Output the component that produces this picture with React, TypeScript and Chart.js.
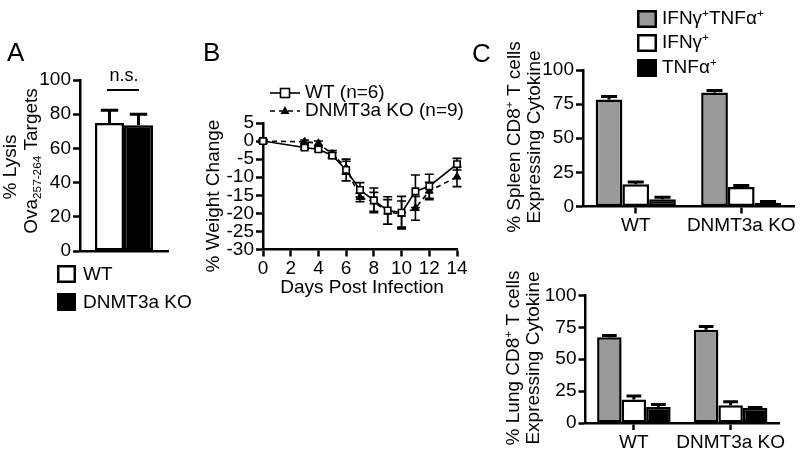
import React, { useEffect, useRef } from "react";
import { Chart, registerables } from "chart.js";

Chart.register(...registerables);

const FONT = '"Liberation Sans", Arial, Helvetica, sans-serif';
const CW = 800;
const CH = 457;
const TICK_SIZE = 19;

// ---------- Panel A: % lysis ----------
const lysisGroups = ["WT", "DNMT3a KO"];
const lysisMean = [74.8, 73.6];
const lysisSem = [7.5, 6.4];
const lysisTickStep = 20;

// ---------- Panel B: weight change ----------
const infectionDays = [0, 3, 4, 5, 6, 7, 8, 9, 10, 11, 12, 14];
const wtWeightChange = [0, -1.8, -2.3, -4.0, -8.0, -13.5, -16.4, -19.2, -19.8, -13.9, -12.5, -6.4];
const wtWeightSem = [0.5, 0.5, 0.6, 0.8, 3.0, 2.0, 3.4, 3.8, 4.5, 4.5, 3.3, 1.6];
const koWeightChange = [0, -0.2, -0.6, -3.6, -7.4, -15.6, -16.8, -19.6, -20.2, -18.6, -13.8, -9.9];
const koWeightSem = [0.4, 0.5, 0.6, 1.0, 1.8, 1.2, 2.6, 3.4, 3.6, 3.3, 2.4, 2.7];
const weightTickStep = 5;
const dayTickStep = 2;

// ---------- Panel C: cytokine expression ----------
const cytokineGroups = ["WT", "DNMT3a KO"];
const cytokineColors = ["#999999", "#ffffff", "#000000"];
const spleenDouble = [78.4, 83.5];
const spleenDoubleSem = [2.2, 1.5];
const spleenIfng = [16.3, 14.2];
const spleenIfngSem = [1.6, 1.1];
const spleenTnfa = [5.4, 2.8];
const spleenTnfaSem = [1.3, 0.9];
const lungDouble = [67.2, 73.2];
const lungDoubleSem = [1.4, 2.5];
const lungIfng = [18.4, 13.9];
const lungIfngSem = [2.8, 2.8];
const lungTnfa = [12.5, 11.8];
const lungTnfaSem = [2.0, 0.4];
const cytokineTickStep = 25;

type Seg = [string, number];

function drawRich(
  ctx: CanvasRenderingContext2D,
  segs: Seg[],
  x: number,
  y: number,
  size: number,
  align: "left" | "center",
  rot: boolean
) {
  ctx.save();
  ctx.translate(x, y);
  if (rot) ctx.rotate(-Math.PI / 2);
  ctx.textBaseline = "middle";
  ctx.textAlign = "left";
  ctx.fillStyle = "#000";
  const small = size * 0.62;
  let total = 0;
  for (const [t, k] of segs) {
    ctx.font = `${k ? small : size}px ${FONT}`;
    total += ctx.measureText(t).width;
  }
  let cx = align === "center" ? -total / 2 : 0;
  for (const [t, k] of segs) {
    const fs = k ? small : size;
    ctx.font = `${fs}px ${FONT}`;
    const dy = k === 1 ? -size * 0.3 : k === -1 ? size * 0.28 : 0;
    ctx.fillText(t, cx, dy);
    cx += ctx.measureText(t).width;
  }
  ctx.restore();
}

const barErrorPlugin = {
  id: "barErrors",
  afterDatasetsDraw(chart: any) {
    const ctx = chart.ctx;
    const ys = chart.scales.y;
    chart.data.datasets.forEach((ds: any, di: number) => {
      if (!ds.errors) return;
      const meta = chart.getDatasetMeta(di);
      meta.data.forEach((el: any, i: number) => {
        const v = ds.data[i];
        const e = ds.errors[i];
        const top = ys.getPixelForValue(v + e);
        const cap = el.width * 0.6;
        ctx.save();
        ctx.strokeStyle = "#000";
        ctx.lineWidth = 3;
        ctx.beginPath();
        ctx.moveTo(el.x, el.y);
        ctx.lineTo(el.x, top);
        ctx.moveTo(el.x - cap / 2, top);
        ctx.lineTo(el.x + cap / 2, top);
        ctx.stroke();
        ctx.restore();
      });
    });
  },
};

const lineErrorPlugin = {
  id: "lineErrors",
  beforeDatasetsDraw(chart: any) {
    const ctx = chart.ctx;
    const ys = chart.scales.y;
    chart.data.datasets.forEach((ds: any, di: number) => {
      if (!ds.errors) return;
      const meta = chart.getDatasetMeta(di);
      meta.data.forEach((el: any, i: number) => {
        const v = ds.data[i].y;
        const e = ds.errors[i];
        const top = ys.getPixelForValue(v + e);
        const bot = ys.getPixelForValue(v - e);
        const cap = 9;
        ctx.save();
        ctx.strokeStyle = "#000";
        ctx.lineWidth = 1.6;
        ctx.beginPath();
        ctx.moveTo(el.x, top);
        ctx.lineTo(el.x, bot);
        ctx.moveTo(el.x - cap / 2, top);
        ctx.lineTo(el.x + cap / 2, top);
        ctx.moveTo(el.x - cap / 2, bot);
        ctx.lineTo(el.x + cap / 2, bot);
        ctx.stroke();
        ctx.restore();
      });
    });
  },
};

function textPlugin(id: string, draw: (ctx: CanvasRenderingContext2D) => void) {
  return {
    id,
    afterDraw(chart: any) {
      const ctx = chart.ctx;
      ctx.save();
      draw(ctx);
      ctx.restore();
    },
  };
}

const tickGrid = {
  display: true,
  drawOnChartArea: false,
  drawTicks: true,
  tickLength: 7,
  tickWidth: 2.5,
  tickColor: "#000",
};

function yAxis(min: number, max: number, step: number, width: number) {
  return {
    min,
    max,
    ticks: {
      stepSize: step,
      autoSkip: false,
      color: "#000",
      font: { family: FONT, size: TICK_SIZE },
      padding: 2,
    },
    grid: tickGrid,
    border: { display: true, color: "#000", width: 2.5 },
    afterFit: (s: any) => {
      s.width = width;
      s.paddingTop = 0;
      s.paddingBottom = 0;
    },
  };
}

function xHeightFix(h: number) {
  return (s: any) => {
    s.height = h;
    s.paddingLeft = 0;
    s.paddingRight = 0;
  };
}

function box(ctx: CanvasRenderingContext2D, x: number, y: number, w: number, h: number, fill: string) {
  ctx.fillStyle = fill;
  ctx.fillRect(x, y, w, h);
  ctx.strokeStyle = "#000";
  ctx.lineWidth = 2.5;
  ctx.strokeRect(x + 1.25, y + 1.25, w - 2.5, h - 2.5);
}

function letter(ctx: CanvasRenderingContext2D, t: string, x: number, y: number) {
  ctx.fillStyle = "#000";
  ctx.font = `26px ${FONT}`;
  ctx.textAlign = "left";
  ctx.textBaseline = "alphabetic";
  ctx.fillText(t, x, y);
}

function makeA(canvas: HTMLCanvasElement) {
  const labels = [""];
  return new Chart(canvas, {
    type: "bar",
    data: {
      labels,
      datasets: [
        {
          label: lysisGroups[0],
          data: [lysisMean[0]],
          errors: [lysisSem[0]],
          backgroundColor: "#ffffff",
          borderColor: "#000",
          borderWidth: 2.5,
          borderSkipped: false,
        } as any,
        {
          label: lysisGroups[1],
          data: [lysisMean[1]],
          errors: [lysisSem[1]],
          backgroundColor: "#000000",
          borderColor: "#000",
          borderWidth: 2.5,
          borderSkipped: false,
        } as any,
      ],
    },
    options: {
      responsive: false,
      animation: false,
      devicePixelRatio: 1,
      events: [],
      layout: { padding: { left: 20, right: 632, top: 80, bottom: 176 } },
      datasets: { bar: { categoryPercentage: 0.66, barPercentage: 1 } },
      plugins: { legend: { display: false }, tooltip: { enabled: false } },
      scales: {
        x: {
          type: "category",
          offset: true,
          ticks: { display: false },
          grid: { display: false },
          border: { display: true, color: "#000", width: 2.5 },
          afterFit: xHeightFix(30),
        },
        y: yAxis(0, 100, lysisTickStep, 60),
      },
    } as any,
    plugins: [
      barErrorPlugin,
      textPlugin("textA", (ctx) => {
        letter(ctx, "A", 7, 61);
        drawRich(ctx, [["% Lysis", 0]], 11, 167, 19, "center", true);
        drawRich(ctx, [["Ova", 0], ["257-264", -1], [" Targets", 0]], 32, 161, 19, "center", true);
        ctx.fillStyle = "#000";
        ctx.font = `18px ${FONT}`;
        ctx.textAlign = "center";
        ctx.textBaseline = "middle";
        ctx.fillText("n.s.", 124, 76);
        ctx.strokeStyle = "#000";
        ctx.lineWidth = 2;
        ctx.beginPath();
        ctx.moveTo(107, 90);
        ctx.lineTo(139, 90);
        ctx.stroke();
        box(ctx, 57, 265, 19, 18, "#ffffff");
        box(ctx, 57, 293, 19, 18, "#000000");
        drawRich(ctx, [[lysisGroups[0], 0]], 83, 275, 19, "left", false);
        drawRich(ctx, [[lysisGroups[1], 0]], 83, 303, 19, "left", false);
      }),
    ],
  });
}

function makeB(canvas: HTMLCanvasElement) {
  const wtPts = infectionDays.map((d, i) => ({ x: d, y: wtWeightChange[i] }));
  const koPts = infectionDays.map((d, i) => ({ x: d, y: koWeightChange[i] }));
  return new Chart(canvas, {
    type: "line",
    data: {
      datasets: [
        {
          label: "WT (n=6)",
          data: wtPts,
          errors: wtWeightSem,
          borderColor: "#000",
          borderWidth: 1.6,
          pointStyle: "rect",
          pointRadius: 4.5,
          pointBackgroundColor: "#fff",
          pointBorderColor: "#000",
          pointBorderWidth: 1.6,
          fill: false,
          clip: false,
        } as any,
        {
          label: "DNMT3a KO (n=9)",
          data: koPts,
          errors: koWeightSem,
          borderColor: "#000",
          borderWidth: 1.6,
          borderDash: [5, 4],
          pointStyle: "triangle",
          pointRadius: 4.5,
          pointBackgroundColor: "#000",
          pointBorderColor: "#000",
          pointBorderWidth: 1,
          fill: false,
          clip: false,
        } as any,
      ],
    },
    options: {
      responsive: false,
      animation: false,
      devicePixelRatio: 1,
      events: [],
      layout: { padding: { left: 203, right: 343, top: 123, bottom: 177.5 } },
      plugins: { legend: { display: false }, tooltip: { enabled: false } },
      scales: {
        x: {
          type: "linear",
          min: 0,
          max: 14,
          ticks: {
            stepSize: dayTickStep,
            autoSkip: false,
            maxRotation: 0,
            color: "#000",
            font: { family: FONT, size: TICK_SIZE },
            padding: 1,
          },
          grid: tickGrid,
          border: { display: true, color: "#000", width: 2.5 },
          afterFit: xHeightFix(30),
        },
        y: yAxis(-30, 5, weightTickStep, 60),
      },
    } as any,
    plugins: [
      lineErrorPlugin,
      textPlugin("textB", (ctx) => {
        letter(ctx, "B", 203, 61);
        drawRich(ctx, [["% Weight Change", 0]], 214, 196, 19, "center", true);
        drawRich(ctx, [["Days Post Infection", 0]], 362, 288, 19, "center", false);
        ctx.strokeStyle = "#000";
        ctx.lineWidth = 1.6;
        ctx.beginPath();
        ctx.moveTo(270, 93);
        ctx.lineTo(300, 93);
        ctx.stroke();
        ctx.setLineDash([5, 4]);
        ctx.beginPath();
        ctx.moveTo(270, 111);
        ctx.lineTo(300, 111);
        ctx.stroke();
        ctx.setLineDash([]);
        ctx.fillStyle = "#fff";
        ctx.fillRect(280.5, 88.5, 9, 9);
        ctx.strokeRect(280.5, 88.5, 9, 9);
        ctx.fillStyle = "#000";
        ctx.beginPath();
        ctx.moveTo(285, 106);
        ctx.lineTo(289.5, 114);
        ctx.lineTo(280.5, 114);
        ctx.closePath();
        ctx.fill();
        drawRich(ctx, [["WT (n=6)", 0]], 305, 93, 19, "left", false);
        drawRich(ctx, [["DNMT3a KO (n=9)", 0]], 305, 111, 19, "left", false);
      }),
    ],
  });
}

function cytokineDatasets(vals: number[][], errs: number[][]) {
  return vals.map((v, k) => ({
    label: ["IFNγ+TNFα+", "IFNγ+", "TNFα+"][k],
    data: v,
    errors: errs[k],
    backgroundColor: cytokineColors[k],
    borderColor: "#000",
    borderWidth: 2.5,
    borderSkipped: false,
  })) as any;
}

function cytokineOptions(pad: any) {
  return {
    responsive: false,
    animation: false,
    devicePixelRatio: 1,
    events: [],
    layout: { padding: pad },
    datasets: { bar: { categoryPercentage: 0.76, barPercentage: 1 } },
    plugins: { legend: { display: false }, tooltip: { enabled: false } },
    scales: {
      x: {
        type: "category",
        offset: true,
        ticks: {
          autoSkip: false,
          maxRotation: 0,
          minRotation: 0,
          color: "#000",
          font: { family: FONT, size: TICK_SIZE },
          padding: 1,
        },
        grid: { ...tickGrid, offset: false },
        border: { display: true, color: "#000", width: 2.5 },
        afterFit: xHeightFix(30),
      },
      y: yAxis(0, 100, cytokineTickStep, 60),
    },
  } as any;
}

function makeC1(canvas: HTMLCanvasElement) {
  return new Chart(canvas, {
    type: "bar",
    data: {
      labels: cytokineGroups,
      datasets: cytokineDatasets(
        [spleenDouble, spleenIfng, spleenTnfa],
        [spleenDoubleSem, spleenIfngSem, spleenTnfaSem]
      ),
    },
    options: cytokineOptions({ left: 523, right: 6, top: 70, bottom: 220.5 }),
    plugins: [
      barErrorPlugin,
      textPlugin("textC1", (ctx) => {
        letter(ctx, "C", 472, 62);
        drawRich(ctx, [["% Spleen CD8", 0], ["+", 1], [" T cells", 0]], 515, 137, 19, "center", true);
        drawRich(ctx, [["Expressing Cytokine", 0]], 535, 137, 19, "center", true);
        box(ctx, 637, 10, 20, 18, cytokineColors[0]);
        box(ctx, 637, 34, 20, 18, cytokineColors[1]);
        box(ctx, 637, 59, 20, 18, cytokineColors[2]);
        drawRich(ctx, [["IFNγ", 0], ["+", 1], ["TNFα", 0], ["+", 1]], 662, 19, 19, "left", false);
        drawRich(ctx, [["IFNγ", 0], ["+", 1]], 662, 43, 19, "left", false);
        drawRich(ctx, [["TNFα", 0], ["+", 1]], 662, 68, 19, "left", false);
      }),
    ],
  });
}

function makeC2(canvas: HTMLCanvasElement) {
  return new Chart(canvas, {
    type: "bar",
    data: {
      labels: cytokineGroups,
      datasets: cytokineDatasets(
        [lungDouble, lungIfng, lungTnfa],
        [lungDoubleSem, lungIfngSem, lungTnfaSem]
      ),
    },
    options: cytokineOptions({ left: 525.5, right: 21, top: 295.5, bottom: 4 }),
    plugins: [
      barErrorPlugin,
      textPlugin("textC2", (ctx) => {
        drawRich(ctx, [["% Lung CD8", 0], ["+", 1], [" T cells", 0]], 514, 358, 19, "center", true);
        drawRich(ctx, [["Expressing Cytokine", 0]], 534, 358, 19, "center", true);
      }),
    ],
  });
}

export default function App() {
  const a = useRef<HTMLCanvasElement>(null);
  const b = useRef<HTMLCanvasElement>(null);
  const c1 = useRef<HTMLCanvasElement>(null);
  const c2 = useRef<HTMLCanvasElement>(null);

  useEffect(() => {
    Chart.defaults.font.family = FONT;
    Chart.defaults.color = "#000";
    const charts = [
      makeA(a.current!),
      makeB(b.current!),
      makeC1(c1.current!),
      makeC2(c2.current!),
    ];
    return () => charts.forEach((c) => c.destroy());
  }, []);

  const cs: React.CSSProperties = { position: "absolute", left: 0, top: 0, width: CW, height: CH };
  return (
    <div
      style={{
        position: "fixed",
        left: 0,
        top: 0,
        width: CW,
        height: CH,
        background: "#fff",
        overflow: "hidden",
      }}
    >
      <canvas ref={a} width={CW} height={CH} style={cs} />
      <canvas ref={b} width={CW} height={CH} style={cs} />
      <canvas ref={c1} width={CW} height={CH} style={cs} />
      <canvas ref={c2} width={CW} height={CH} style={cs} />
    </div>
  );
}
